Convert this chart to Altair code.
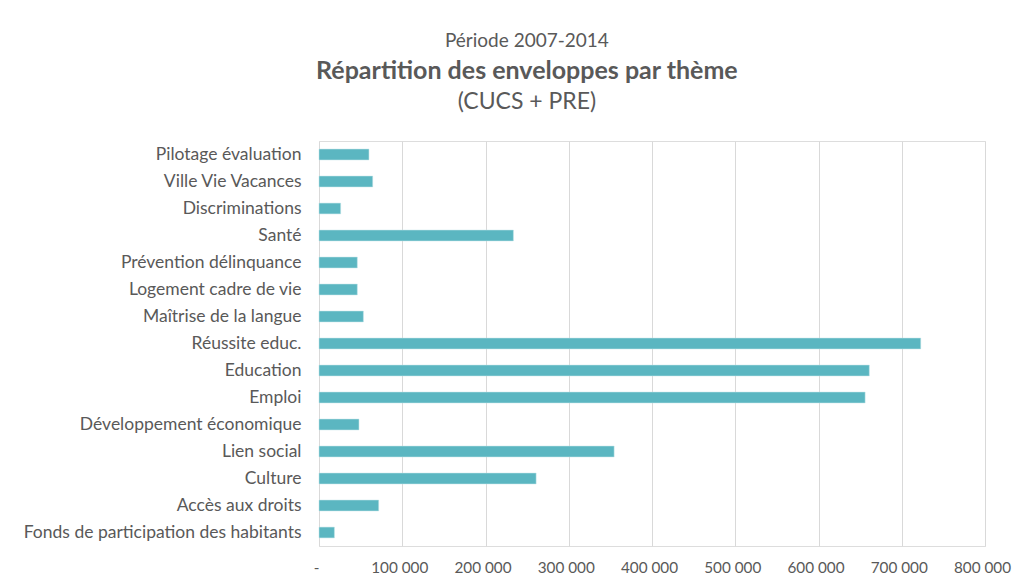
import altair as alt
import pandas as pd

themes = [
    "Pilotage évaluation",
    "Ville Vie Vacances",
    "Discriminations",
    "Santé",
    "Prévention délinquance",
    "Logement cadre de vie",
    "Maîtrise de la langue ",
    "Réussite educ.",
    "Education",
    "Emploi",
    "Développement économique",
    "Lien social",
    "Culture",
    "Accès aux droits",
    "Fonds de participation des habitants",
]
montants = [60000, 64500, 26000, 233500, 46000, 46000, 53300, 722800, 661000,
            656000, 48000, 354500, 260800, 71700, 18500]
x_ticks = [0, 100000, 200000, 300000, 400000, 500000, 600000, 700000, 800000]

df = pd.DataFrame({"theme": themes, "montant": montants})

FONT = "Lato"
GREY = "#595959"

bars = alt.Chart(df).mark_bar(color="#5BB6C1", stroke="#bfe3e7", strokeWidth=0.5).encode(
    x=alt.X(
        "montant:Q",
        scale=alt.Scale(domain=[0, 800000], nice=False),
        axis=alt.Axis(
            values=x_ticks,
            title=None,
            domain=False,
            ticks=False,
            grid=True,
            gridColor="#d9d9d9",
            gridWidth=1,
            labelExpr="datum.value == 0 ? '-' : format(datum.value / 1000, 'd') + ' 000'",
            labelFont=FONT,
            labelFontSize=15.3,
            labelColor=GREY,
            labelPadding=14,
            labelOffset=-3,
            labelFlush=False,
            labelOverlap=False,
        ),
    ),
    y=alt.Y(
        "theme:N",
        sort=themes,
        scale=alt.Scale(paddingInner=0.6, paddingOuter=0.3),
        axis=alt.Axis(
            title=None,
            domain=False,
            ticks=False,
            grid=False,
            labelFont=FONT,
            labelFontSize=17.5,
            labelColor=GREY,
            labelPadding=18,
            labelLimit=400,
        ),
    ),
).properties(
    width=666,
    height=405,
    title=alt.TitleParams(
        text="Répartition des enveloppes par thème",
        subtitle="(CUCS + PRE)",
        font=FONT,
        fontSize=25,
        fontWeight="bold",
        color=GREY,
        subtitleFont=FONT,
        subtitleFontSize=23,
        subtitleColor=GREY,
        subtitlePadding=7,
        anchor="middle",
        frame="bounds",
        offset=27,
        dx=10,
    ),
)

chart = alt.vconcat(
    bars,
    title=alt.TitleParams(
        text="Période 2007-2014",
        font=FONT,
        fontSize=19,
        fontWeight="normal",
        color=GREY,
        anchor="middle",
        offset=7.5,
        dx=10,
    ),
    padding={"left": 22, "top": 32, "right": 10, "bottom": 4},
).configure_view(stroke=None).configure(background="white")

chart.save("out.html", embed_options={"renderer": "svg", "actions": False})
